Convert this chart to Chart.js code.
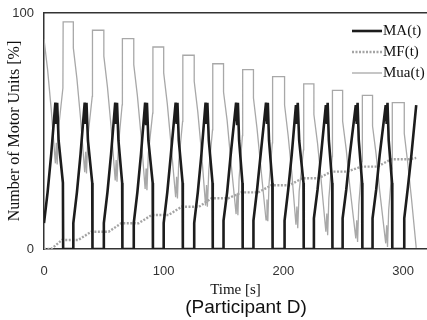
<!DOCTYPE html>
<html>
<head>
<meta charset="utf-8">
<script src="https://cdn.jsdelivr.net/npm/chart.js@4.4.1/dist/chart.umd.min.js"></script>
<style>
  body { margin: 0; background: #fff; }
  canvas { display: block; }
</style>
</head>
<body>
<canvas id="motorChart" width="427" height="320"></canvas>
<script>
// time points [s] shared by MA(t) and Mua(t)
const maTime = [
    0, 3, 6, 9.5, 10.3, 11, 12.2, 15.8, 16,
    24.5, 24.5, 27.5, 30.5, 34, 34.8, 35.5, 36.7, 40.3, 40.5,
    50, 50, 53, 56, 59.5, 60.3, 61, 62.2, 65.3, 65.5,
    75, 75, 78, 81, 84.5, 85.3, 86, 87.2, 90.8, 91,
    100, 100, 103, 106, 110, 110.8, 111.5, 112.6, 115.8, 116,
    125.5, 125.5, 128.5, 131.5, 135, 135.8, 136.5, 137.7, 140.8, 141,
    150, 150, 153, 156, 160.5, 161.3, 162, 163, 165.8, 166,
    175, 175, 178, 181, 185.5, 186.3, 187, 188, 190.8, 191,
    201, 201, 204, 207, 210.5, 211.3, 212, 213.2, 216.8, 217,
    225.5, 225.5, 228.5, 231.5, 235.5, 236.3, 237, 238, 240.8, 241,
    249.5, 249.5, 252.5, 255.5, 260.5, 261.3, 262, 263, 265.8, 266,
    274.5, 274.5, 277.5, 280.5, 285.5, 286.3, 287, 288, 290.8, 291,
    301, 301, 304, 307, 311
];
const maValues = [
    11, 24, 40, 62, 53, 62, 46, 28, 0,
    0, 11, 24, 40, 62, 53, 62, 46, 28, 0,
    0, 11, 24, 40, 62, 53, 62, 46, 28, 0,
    0, 11, 24, 40, 62, 53, 62, 46, 28, 0,
    0, 11, 24, 40, 62, 53, 62, 46, 28, 0,
    0, 11, 24, 40, 62, 53, 62, 46, 28, 0,
    0, 12, 24, 40, 62, 53, 62, 46, 28, 0,
    0, 12, 25, 40, 62, 53, 62, 46, 28, 0,
    0, 12, 25, 40, 61, 53, 62, 46, 28, 0,
    0, 13, 25, 40, 61, 53, 62, 46, 28, 0,
    0, 13, 25, 40, 61, 53, 62, 46, 28, 0,
    0, 13, 25, 40, 61, 53, 62, 46, 28, 0,
    0, 13, 26, 40, 61
];
const muaValues = [
    89, 76, 59.4, 36.3, 45, 35.8, 51.4, 68.2, 96.2,
    96.2, 85.2, 72.2, 55.6, 32.5, 41.2, 32, 47.6, 64.7, 92.7,
    92.7, 81.7, 68.7, 52.1, 29, 37.7, 28.5, 44.1, 61.1, 89.1,
    89.1, 78.1, 65.1, 48.5, 25.4, 34.1, 24.9, 40.5, 57.6, 85.6,
    85.6, 74.6, 61.6, 45, 21.9, 30.6, 21.4, 37, 54.1, 82.1,
    82.1, 71.1, 58.1, 41.5, 18.4, 27.1, 17.9, 33.5, 50.5, 78.5,
    78.5, 66.5, 54.5, 37.9, 14.8, 23.5, 14.3, 29.9, 48, 76,
    76, 64, 51, 35.4, 12.3, 21, 11.8, 27.4, 45, 73,
    73, 61, 48, 32.4, 10.3, 18, 8.8, 24.4, 42, 70,
    70, 57, 45, 29.4, 7.3, 15, 5.8, 21.4, 39.2, 67.2,
    67.2, 54.2, 42.2, 26.6, 4.5, 12.2, 3, 18.6, 37.1, 65.1,
    65.1, 52.1, 40.1, 24.5, 2.4, 10.1, 0.9, 16.5, 34, 62,
    62, 49, 36, 21.5, 0.5
];

// MF(t) has its own, slower breakpoints
const mfTime = [0, 6, 15, 28.5, 39.5, 54, 64.5, 79, 90, 104, 115, 129.5, 140,
    154, 165, 179, 190, 205, 216, 229.5, 240, 253.5, 265, 278.5, 290, 305, 311];
const mfValues = [0, 0, 3.8, 3.8, 7.3, 7.3, 10.9, 10.9, 14.4, 14.4, 17.9, 17.9, 21.5,
    21.5, 24, 24, 27, 27, 30, 30, 32.8, 32.8, 34.9, 34.9, 38, 38, 38.6];

const seriesNames = ['MA(t)', 'MF(t)', 'Mua(t)'];
const xTicks = [0, 100, 200, 300];
const yTicks = [0, 100];

const toPoints = (xs, ys) => xs.map((x, i) => ({ x: x, y: ys[i] }));
const serif = '"Liberation Serif", "Times New Roman", serif';
const sans = '"Liberation Sans", Arial, sans-serif';

// legend in the upper right corner of the plot
const cornerLegend = {
    id: 'cornerLegend',
    afterDraw(chart) {
        const ctx = chart.ctx;
        const x0 = chart.chartArea.right - 75;
        ctx.save();
        ctx.font = '15px ' + serif;
        ctx.textBaseline = 'middle';
        chart.data.datasets.forEach((ds, i) => {
            const y = chart.chartArea.top + 18 + i * 21;
            ctx.strokeStyle = ds.borderColor;
            ctx.lineWidth = ds.borderWidth;
            ctx.setLineDash(ds.borderDash || []);
            ctx.beginPath();
            ctx.moveTo(x0, y);
            ctx.lineTo(x0 + 30, y);
            ctx.stroke();
            ctx.setLineDash([]);
            ctx.fillStyle = '#111';
            ctx.fillText(ds.label, x0 + 31, y);
        });
        ctx.restore();
    }
};

// caption under the axis title
const caption = {
    id: 'caption',
    afterDraw(chart) {
        const ctx = chart.ctx;
        ctx.save();
        ctx.font = '19px ' + sans;
        ctx.fillStyle = '#111';
        ctx.textAlign = 'center';
        ctx.textBaseline = 'middle';
        ctx.fillText('(Participant D)', chart.chartArea.left + 202, chart.height - 12);
        ctx.restore();
    }
};

const noPad = (scale) => {
    scale.paddingTop = 0;
    scale.paddingBottom = 0;
    scale.paddingLeft = 0;
    scale.paddingRight = 0;
};

new Chart(document.getElementById('motorChart'), {
    type: 'line',
    data: {
        datasets: [{
            label: seriesNames[0],
            data: toPoints(maTime, maValues),
            borderColor: '#1c1c1c',
            borderWidth: 2.6
        }, {
            label: seriesNames[1],
            data: toPoints(mfTime, mfValues),
            borderColor: '#a4a4a4',
            borderWidth: 2.4,
            borderDash: [2, 1.5]
        }, {
            label: seriesNames[2],
            data: toPoints(maTime, muaValues),
            borderColor: '#a8a8a8',
            borderWidth: 1.3
        }]
    },
    options: {
        responsive: false,
        animation: false,
        elements: { point: { radius: 0 }, line: { tension: 0 } },
        layout: { padding: { top: 13, right: 0, bottom: 0, left: 0 } },
        plugins: {
            legend: { display: false },
            tooltip: { enabled: false }
        },
        scales: {
            x: {
                type: 'linear',
                min: 0,
                max: 320,
                afterFit: (scale) => { scale.height = 71; noPad(scale); },
                afterBuildTicks: (scale) => { scale.ticks = xTicks.map(v => ({ value: v })); },
                grid: { display: false, drawTicks: false },
                border: { color: '#333', width: 1.5 },
                ticks: {
                    padding: 15,
                    color: '#333',
                    font: { family: sans, size: 13 }
                },
                title: {
                    display: true,
                    text: 'Time [s]',
                    color: '#111',
                    padding: { top: 0, bottom: 21 },
                    font: { family: serif, size: 15 }
                }
            },
            x2: {
                type: 'linear',
                position: 'top',
                afterFit: (scale) => { scale.height = 0; noPad(scale); },
                grid: { display: false, drawTicks: false },
                ticks: { display: false },
                border: { color: '#333', width: 1.5 }
            },
            y: {
                min: 0,
                max: 100,
                afterFit: (scale) => { scale.width = 44; noPad(scale); },
                afterBuildTicks: (scale) => { scale.ticks = yTicks.map(v => ({ value: v })); },
                grid: { display: false, drawTicks: false },
                border: { color: '#333', width: 1.5 },
                ticks: {
                    padding: 10,
                    color: '#333',
                    font: { family: sans, size: 13 }
                },
                title: {
                    display: true,
                    text: 'Number of Motor Units [%]',
                    color: '#111',
                    padding: { top: 5, bottom: 0 },
                    font: { family: serif, size: 16 }
                }
            }
        }
    },
    plugins: [cornerLegend, caption]
});
</script>
</body>
</html>
